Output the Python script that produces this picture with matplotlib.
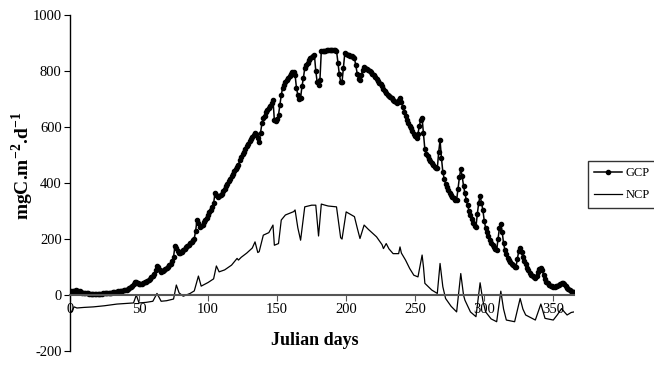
import numpy as np
import matplotlib
matplotlib.use("Agg")
import matplotlib.pyplot as plt

plt.rcParams['font.family'] = ['Liberation Serif', 'DejaVu Serif']
plt.rcParams['mathtext.fontset'] = 'custom'
plt.rcParams['mathtext.rm'] = 'Liberation Serif'
plt.rcParams['mathtext.bf'] = 'Liberation Serif:bold'
plt.rcParams['axes.unicode_minus'] = False

# GCP, one value per Julian day (1..365)
gcp = [
    13, 15, 16, 17, 16, 15, 13, 11, 9, 8,
    7, 6, 6, 5, 5, 5, 5, 5, 5, 5,
    5, 5, 5, 6, 6, 6, 7, 7, 8, 9,
    10, 10, 11, 12, 13, 14, 15, 16, 17, 18,
    19, 21, 24, 28, 33, 39, 45, 48, 44, 40,
    39, 40, 42, 45, 48, 51, 55, 59, 63, 68,
    75, 88, 104, 100, 90, 84, 86, 89, 93, 97,
    101, 106, 112, 120, 137, 175, 168, 158, 152, 151,
    155, 160, 165, 170, 175, 180, 186, 191, 196, 202,
    230, 268, 258, 244, 246, 252, 260, 268, 276, 285,
    295, 305, 316, 328, 363, 358, 351, 352, 356, 362,
    370, 379, 388, 397, 406, 415, 424, 433, 442, 450,
    458, 466, 482, 492, 502, 512, 522, 531, 540, 549,
    558, 566, 571, 577, 575, 560, 548, 580, 613, 631,
    640, 652, 660, 668, 676, 684, 696, 625, 622, 630,
    643, 680, 714, 740, 750, 760, 768, 775, 782, 790,
    795, 798, 786, 740, 714, 700, 705, 745, 774, 810,
    820, 830, 838, 845, 850, 855, 857, 800, 760, 750,
    768, 871, 872, 873, 873, 874, 874, 874, 875, 875,
    875, 875, 873, 830, 790, 762, 760, 810, 863, 860,
    858, 856, 854, 852, 850, 845, 820, 790, 770, 768,
    785, 805, 815, 812, 808, 804, 800, 795, 790, 785,
    780, 773, 766, 758, 752, 745, 735, 728, 720, 716,
    712, 708, 703, 698, 693, 688, 685, 695, 702, 688,
    672, 655, 640, 625, 615, 605, 595, 585, 575, 567,
    560, 575, 605, 625, 631, 577, 520, 505, 495, 485,
    478, 470, 464, 458, 454, 452, 510, 553, 490, 440,
    415, 398, 387, 376, 366, 358, 350, 345, 341, 339,
    380, 420, 449, 425, 390, 363, 340, 320, 300, 285,
    270, 258, 248, 244, 290, 330, 354, 330, 304, 265,
    240, 225, 212, 196, 186, 178, 172, 166, 161, 200,
    240, 254, 225, 185, 160, 145, 133, 124, 117, 111,
    106, 102, 101, 130, 158, 167, 155, 135, 120, 110,
    98, 88, 80, 73, 67, 63, 60, 68, 82, 93,
    96, 88, 72, 58, 48, 42, 37, 34, 32, 30,
    30, 31, 33, 36, 40, 42, 42, 38, 32, 26,
    21, 17, 14, 12, 10,
]
gcp_days = np.arange(1, len(gcp) + 1)

# NCP, read at the turning points of the thin line
ncp_days = [1, 3, 5, 10, 17, 25, 34, 40, 46, 48, 50, 55, 60, 63, 66, 70, 75, 77,
            79, 82, 87, 90, 93, 95, 100, 104, 106, 108, 112, 117, 121, 122, 124,
            128, 132, 134, 136, 137, 140, 144, 147, 148, 149, 151, 153, 156, 162,
            163, 165, 167, 170, 175, 178, 180, 182, 184, 187, 193, 196, 197, 200,
            206, 208, 210, 213, 216, 222, 226, 227, 229, 231, 234, 238, 239, 240,
            243, 246, 249, 252, 255, 256, 257, 262, 266, 268, 270, 272, 276, 280,
            283, 285, 286, 290, 294, 297, 299, 301, 305, 309, 312, 314, 316, 322,
            326, 328, 330, 337, 341, 344, 350, 353, 356, 358, 360, 363, 365]
ncp = [-60, -42, -46, -44, -42, -38, -32, -30, -28, 0, -28, -26, -22, 6, -22, -20,
       -14, 36, 8, -4, 6, 15, 68, 32, 45, 58, 104, 83, 90, 107, 131, 125, 135,
       150, 168, 190, 152, 155, 214, 223, 250, 178, 180, 184, 268, 286, 298,
       304, 240, 196, 315, 321, 321, 211, 325, 322, 318, 315, 205, 200, 297,
       280, 240, 202, 250, 235, 208, 180, 166, 184, 165, 148, 148, 172, 150,
       125, 95, 71, 65, 143, 100, 42, 18, 6, 113, 30, -12, -40, -60,
       77, 0, -18, -60, -77, 44, -20, -60, -85, -95, 14, -50, -89, -95,
       -12, -50, -71, -89, -32, -83, -89, -70, -48, -60, -71, -62, -60]

yticks = [-200, 0, 200, 400, 600, 800, 1000]
xticks = [0, 50, 100, 150, 200, 250, 300, 350]

fig = plt.figure(figsize=(6.54, 3.65), dpi=100)
ax = fig.add_axes([70 / 654, 0.038, 504 / 654, 0.921])

ax.plot(gcp_days, gcp, color='black', lw=1.1, marker='o', ms=3.0,
        mec='black', mfc='black', label='GCP')
ax.plot(ncp_days, ncp, color='black', lw=0.9, label='NCP')

ax.set_xlim(0, 365)
ax.set_ylim(-200, 1000)
ax.set_yticks(yticks)
ax.set_xticks(xticks)

ax.spines['top'].set_visible(False)
ax.spines['right'].set_visible(False)
ax.spines['bottom'].set_position(('data', 0))
ax.spines['bottom'].set_color('#555555')
ax.spines['bottom'].set_linewidth(1.5)
ax.spines['left'].set_linewidth(1.0)

ax.tick_params(axis='y', direction='out', length=4, labelsize=10.5, pad=2)
ax.tick_params(axis='x', direction='out', length=4, labelsize=10.5, pad=2,
               color='#555555')

fig.text(0.034, 0.545, r'mgC.m$^{\mathbf{-2}}$.d$^{\mathbf{-1}}$', rotation=90,
         ha='center', va='center', fontsize=14, fontweight='bold')
fig.text(0.482, 0.068, 'Julian days', ha='center', va='center',
         fontsize=13, fontweight='bold')

leg = fig.legend(loc='upper left', bbox_to_anchor=(588 / 654, 1 - 161 / 365),
                 fontsize=9, frameon=True, fancybox=False, handlelength=2.2,
                 borderpad=0.5, labelspacing=0.8, handletextpad=0.3,
                 borderaxespad=0)
leg.get_frame().set_edgecolor('black')
leg.get_frame().set_linewidth(1.0)

fig.savefig('out.png', dpi=100)
